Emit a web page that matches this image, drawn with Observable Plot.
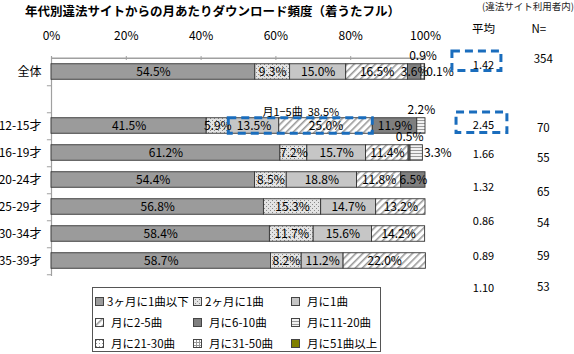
<!DOCTYPE html>
<html><head><meta charset="utf-8">
<script src="https://cdn.jsdelivr.net/npm/d3@7"></script>
<script src="https://cdn.jsdelivr.net/npm/@observablehq/plot@0.6"></script>
<style>
body{margin:0;background:#fff;font-family:"Noto Sans CJK JP","Noto Sans",sans-serif;}
#wrap{position:relative;width:574px;height:354px;overflow:hidden;}
#title{position:absolute;left:25px;top:1px;font-size:12.5px;font-weight:bold;color:#000;}
#sub{position:absolute;right:0;top:-1px;font-size:9.5px;color:#222;}
#legend{position:absolute;left:92px;top:287px;width:289px;height:65px;border:1px solid #555;box-sizing:border-box;}
.li{position:absolute;font-size:11.5px;display:flex;align-items:center;white-space:nowrap;height:20px;}
</style></head><body>
<svg width="0" height="0" style="position:absolute"><defs>
<pattern id="p2m" width="4" height="4" patternUnits="userSpaceOnUse"><rect width="4" height="4" fill="#e4e4e4"/><rect x="0" y="0" width="1" height="1" fill="#8a8a8a"/><rect x="2" y="2" width="1" height="1" fill="#8a8a8a"/></pattern>
<pattern id="p25" width="5" height="5" patternUnits="userSpaceOnUse" patternTransform="rotate(45)"><rect width="5" height="5" fill="#fff"/><line x1="0.8" y1="0" x2="0.8" y2="5" stroke="#9a9a9a" stroke-width="1.6"/></pattern>
<pattern id="p1120" width="3" height="3" patternUnits="userSpaceOnUse"><rect width="3" height="3" fill="#f2f2f2"/><rect x="0" y="0" width="3" height="1" fill="#9a9a9a"/></pattern>
<pattern id="p2130" width="3" height="3" patternUnits="userSpaceOnUse"><rect width="3" height="3" fill="#fff"/><rect x="1" y="1" width="1" height="1" fill="#999"/></pattern>
<pattern id="p3150" width="3" height="3" patternUnits="userSpaceOnUse"><rect width="3" height="3" fill="#fff"/><rect x="0" y="0" width="3" height="1" fill="#999"/><rect x="0" y="0" width="1" height="3" fill="#999"/></pattern>
</defs></svg>
<div id="wrap">
<div id="title">年代別違法サイトからの月あたりダウンロード頻度（着うたフル）</div>
<div id="sub">(違法サイト利用者内)</div>
<div id="legend"></div>
</div>
<script>
// ---- data ----
const categories = ["3ヶ月に1曲以下","2ヶ月に1曲","月に1曲","月に2-5曲","月に6-10曲","月に11-20曲","月に21-30曲","月に31-50曲","月に51曲以上"];
const groups = ["全体","12-15才","16-19才","20-24才","25-29才","30-34才","35-39才"];
const s3m   = [54.5, 41.5, 61.2, 54.4, 56.8, 58.4, 58.7];
const s2m   = [9.3, 5.9, 7.2, 8.5, 15.3, 11.7, 8.2];
const s1    = [15.0, 13.5, 15.7, 18.8, 14.7, 15.6, 11.2];
const s2_5  = [16.5, 25.0, 11.4, 11.8, 13.2, 14.2, 22.0];
const s6_10 = [3.6, 11.9, 0.5, 6.5, 0, 0, 0];
const s11_20= [0.9, 2.2, 3.3, 0, 0, 0, 0];
const s21_30= [0.1, 0, 0, 0, 0, 0, 0];
const s31_50= [0, 0, 0, 0, 0, 0, 0];
const s51   = [0, 0, 0, 0, 0, 0, 0];
const averages = [1.42, 2.45, 1.66, 1.32, 0.86, 0.89, 1.10];
const counts = [354, 70, 55, 65, 54, 59, 53];
const xTicks = [0, 20, 40, 60, 80, 100];

const series = [s3m, s2m, s1, s2_5, s6_10, s11_20, s21_30, s31_50, s51];
const fills = ["#9b9b9b","url(#p2m)","#c6c6c6","url(#p25)","#7f7f7f","url(#p1120)","url(#p2130)","url(#p3150)","#808000"];
const blank = " ";
const rows = [groups[0], blank, ...groups.slice(1)];

// ---- derived table ----
const segs = [];
const rowEnd = {};
groups.forEach((g, gi) => {
  let acc = 0;
  categories.forEach((c, ci) => {
    const v = series[ci][gi];
    if (v > 0) segs.push({group: g, cat: c, ci, v, x1: acc, x2: acc + v, mid: acc + v / 2});
    acc += v;
  });
  rowEnd[g] = acc;
});
const inside = segs.filter(d => d.v >= 3.5);
const tinyAbove = [], tinyRight = [];
groups.forEach(g => {
  const t = segs.filter(d => d.group === g && d.v < 3.5);
  if (t[0]) tinyAbove.push(t[0]);
  if (t[1]) tinyRight.push(t[1]);
});
// highlighted 月1-5曲 group (月に1曲 + 月に2-5曲) of 12-15才
const hlSegs = segs.filter(d => d.group === "12-15才" && (d.ci === 2 || d.ci === 3));
const hl = [{group: "12-15才", x1: d3.min(hlSegs, d => d.x1), x2: d3.max(hlSegs, d => d.x2), sum: d3.sum(hlSegs, d => d.v)}];

const fs = "Noto Sans CJK JP";
const avgDy = [-7, -1, 1, 7, 14, 22, 27];
const nDy = [-13, 2, 5, 12, 16, 22, 26];
const blue = "#1a6dbd";

const marks = [
  Plot.ruleY([groups[0]], {x1: 0, x2: 100, dy: -13.75, stroke: "#a0a0a0", strokeWidth: 1.5}),
  Plot.ruleX([0], {stroke: "#a0a0a0", strokeWidth: 1.2}),
  Plot.ruleX(xTicks.slice(1), {x: d => d, stroke: "#a0a0a0", insetBottom: 216}),
  Plot.ruleY(rows, {y: d => d, x1: -1.1, x2: 0, dy: 13.75, stroke: "#a0a0a0"}),
  Plot.axisX(xTicks, {anchor: "top", label: null, tickSize: 0, tickPadding: 17, tickFormat: d => d + "%", fontSize: 12, fill: "#000"}),
  Plot.axisY({label: null, tickSize: 0, tickPadding: 10, fontSize: 12, fill: "#000", tickFormat: d => d.trim()}),
  Plot.barX(segs, {x1: "x1", x2: "x2", y: "group", fill: "cat", stroke: "#333", strokeWidth: 0.9, insetTop: 5.75, insetBottom: 5.75}),
  Plot.text(inside, {x: "mid", y: "group", text: d => d.v.toFixed(1) + "%", fontSize: 12, fill: "#000"}),
  Plot.text(tinyAbove, {x: "mid", y: "group", dy: -16, text: d => d.v.toFixed(1) + "%", fontSize: 12, fill: "#000"}),
  Plot.text(tinyRight, {x: d => rowEnd[d.group], y: "group", dx: 1, textAnchor: "start", text: d => d.v.toFixed(1) + "%", fontSize: 12, fill: "#000"}),
  Plot.rect(hl, {x1: "x1", x2: "x2", y: "group", insetTop: 5.75, insetBottom: 5.75, fill: "none", stroke: blue, strokeWidth: 3, strokeDasharray: "8,5"}),
  Plot.text(hl, {x: d => (d.x1 + d.x2) / 2, y: "group", dy: -14, text: d => "月1−5曲  " + d.sum.toFixed(1) + "%", fontSize: 11, fill: "#000"}),
  Plot.text(["平均"], {x: 115.5, frameAnchor: "top", dy: -32, text: d => d, fontSize: 11.5, fill: "#000"}),
  Plot.text(["N="], {x: 130.3, frameAnchor: "top", dy: -32, text: d => d, fontSize: 11.5, fill: "#000"}),
  Plot.rect([groups[0]], {x1: 107.2, x2: 120.3, y: d => d, insetTop: -7, insetBottom: 14.5, fill: "none", stroke: blue, strokeWidth: 3, strokeDasharray: "8,5"}),
  Plot.rect([groups[1]], {x1: 108.3, x2: 121.9, y: d => d, insetTop: 0, insetBottom: 6.5, fill: "none", stroke: blue, strokeWidth: 3, strokeDasharray: "8,5"})
];
groups.forEach((g, i) => {
  marks.push(Plot.text([averages[i]], {x: 115.5, y: () => g, dy: avgDy[i], text: d => d.toFixed(2), fontSize: 11, fill: "#000"}));
  marks.push(Plot.text([counts[i]], {x: 131.5, y: () => g, dy: nDy[i], text: d => String(d), fontSize: 11.5, fill: "#000"}));
});

const chart = Plot.plot({
  width: 574, height: 354,
  marginTop: 56, marginBottom: 78, marginLeft: 51, marginRight: 149,
  style: {fontFamily: fs, background: "transparent"},
  x: {domain: [0, 100], label: null},
  y: {domain: rows, padding: 0, label: null},
  color: {domain: categories, range: fills, type: "ordinal"},
  marks
});
const wrap = document.getElementById("wrap");
wrap.insertBefore(chart, wrap.firstChild);

// ---- legend ----
const legend = document.getElementById("legend");
categories.forEach((c, i) => {
  const col = i % 3, row = Math.floor(i / 3);
  const el = document.createElement("div");
  el.className = "li";
  el.style.left = (2 + col * 98) + "px";
  el.style.top = (3 + row * 21) + "px";
  const gap = i < 2 ? 3 : 7;
  el.innerHTML = `<svg width="9" height="9" style="margin-right:${gap}px"><rect x="0.5" y="0.5" width="8" height="8" fill="${fills[i]}" stroke="#444"/></svg><span>${c}</span>`;
  legend.appendChild(el);
});
</script>
</body></html>
